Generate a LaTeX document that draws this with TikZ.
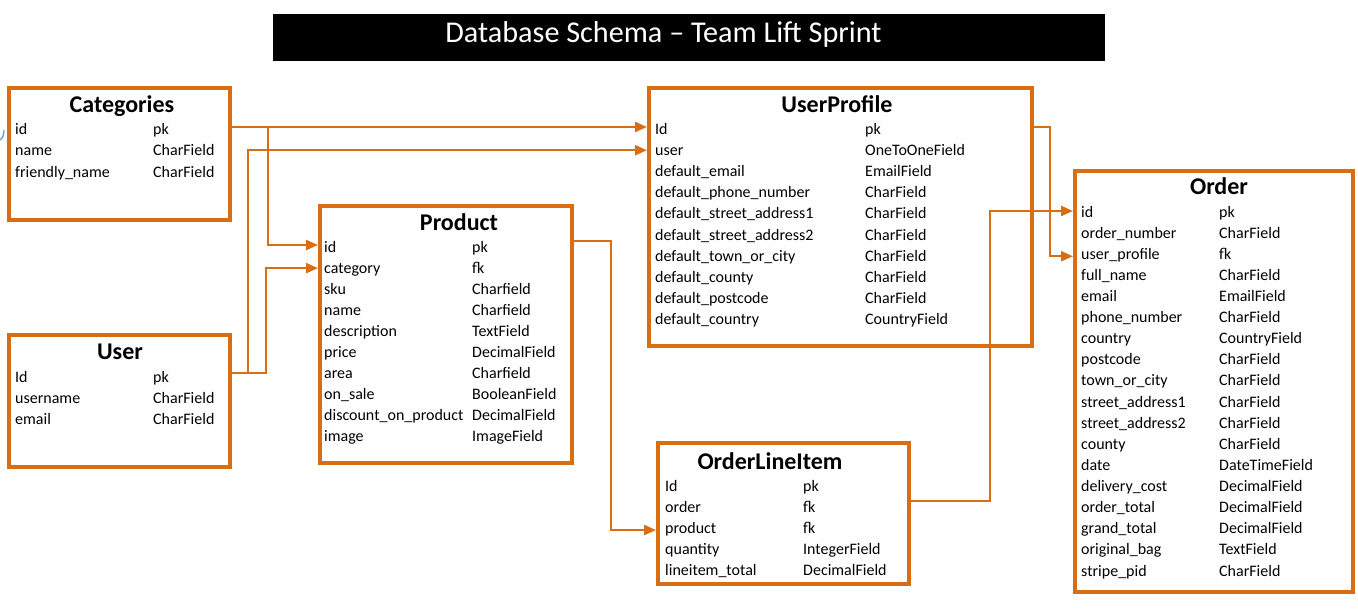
\documentclass[tikz,border=0pt]{standalone}
\usepackage{fontspec}
\setmainfont{Carlito}
\usetikzlibrary{arrows.meta}
\definecolor{orng}{RGB}{217,109,20}
\definecolor{mblue}{RGB}{90,150,210}
\tikzset{
  tbl/.style={draw=orng, line width=4pt, anchor=north west, inner sep=0pt},
  fld/.style={anchor=west, inner sep=0pt, text height=13pt, text depth=3pt,
              font=\fontsize{16}{18}\selectfont},
  ttl/.style={anchor=base, inner sep=0pt, font=\bfseries\fontsize{24}{26}\selectfont},
  conn/.style={draw=orng, line width=2.2pt},
  arr/.style={conn, -{Triangle[length=12pt,width=10pt]}},
}
\newcommand\tablerows[6]{%
  \foreach \a/\b [count=\i] in {#6} {
    \node[fld] (#1-r\i) at (#2, {#4+#5*(\i-1)}) {\a};
    \node[fld] (#1-t\i) at (#3, {#4+#5*(\i-1)}) {\b};
  }}
\begin{document}
\begin{tikzpicture}[x=1pt,y=-1pt]
\useasboundingbox (0,0) rectangle (1358,613);

% title
\node[fill=black, anchor=north west, inner sep=0pt, minimum width=832pt, minimum height=47pt] (title) at (273,14) {};
\node[text=white, inner sep=0pt, anchor=base, font=\fontsize{30.2}{32}\selectfont] (titletext) at (663.5,42.5) {Database Schema – Team Lift Sprint};

% small blue mark
\draw[mblue, line width=1.2pt] (0,140) .. controls (3,138) and (4,134) .. (4,130);

% boxes
\node[tbl, minimum width=221pt, minimum height=132pt] (cat) at (7,86) {};
\node[tbl, minimum width=221pt, minimum height=132pt] (user) at (7,333) {};
\node[tbl, minimum width=252pt, minimum height=257pt] (prod) at (318,204) {};
\node[tbl, minimum width=383pt, minimum height=258pt] (up) at (647,86) {};
\node[tbl, minimum width=251pt, minimum height=141pt] (oli) at (656,441) {};
\node[tbl, minimum width=278pt, minimum height=421pt] (ord) at (1073,169) {};

% titles
\node[ttl] (cat-title) at (122,112) {Categories};
\node[ttl] (user-title) at (120,359) {User};
\node[ttl] (prod-title) at (459,230) {Product};
\node[ttl] (up-title) at (837,112) {UserProfile};
\node[ttl] (oli-title) at (770,469) {OrderLineItem};
\node[ttl] (ord-title) at (1219,194) {Order};

% rows
\tablerows{cat}{15}{153}{129}{21.5}{id/pk, name/CharField, friendly\_name/CharField}
\tablerows{user}{15}{153}{377}{21}{Id/pk, username/CharField, email/CharField}
\tablerows{prod}{324}{472}{247}{21.11}{id/pk, category/fk, sku/Charfield, name/Charfield,
  description/TextField, price/DecimalField, area/Charfield, on\_sale/BooleanField,
  discount\_on\_product/DecimalField, image/ImageField}
\tablerows{up}{655}{865}{129}{21.2}{Id/pk, user/OneToOneField, default\_email/EmailField,
  default\_phone\_number/CharField, default\_street\_address1/CharField,
  default\_street\_address2/CharField, default\_town\_or\_city/CharField,
  default\_county/CharField, default\_postcode/CharField, default\_country/CountryField}
\tablerows{oli}{665}{803}{486}{21}{Id/pk, order/fk, product/fk, quantity/IntegerField,
  lineitem\_total/DecimalField}
\tablerows{ord}{1081}{1219}{212}{21.12}{id/pk, order\_number/CharField, user\_profile/fk,
  full\_name/CharField, email/EmailField, phone\_number/CharField, country/CountryField,
  postcode/CharField, town\_or\_city/CharField, street\_address1/CharField,
  street\_address2/CharField, county/CharField, date/DateTimeField,
  delivery\_cost/DecimalField, order\_total/DecimalField, grand\_total/DecimalField,
  original\_bag/TextField, stripe\_pid/CharField}

% junction x-positions
\coordinate (j1) at (268,0);
\coordinate (j2) at (248,0);
\coordinate (j3) at (266,0);
\coordinate (j4) at (611,0);
\coordinate (j5) at (990,0);
\coordinate (j6) at (1050,0);

% connectors
\draw[arr] ([yshift=2pt]cat.east |- cat-r1) -- ([yshift=2pt]up.west |- up-r1);
\draw[arr] ([yshift=2pt]cat.east |- cat-r1) -- ([yshift=2pt]j1 |- cat-r1) -- ([yshift=2pt]j1 |- prod-r1) -- ([yshift=2pt]prod.west |- prod-r1);
\draw[arr] ([yshift=4pt]user.east |- user-r1) -- ([yshift=4pt]j2 |- user-r1) -- (j2 |- up-r2) -- (up.west |- up-r2);
\draw[arr] ([yshift=4pt]user.east |- user-r1) -- ([yshift=4pt]j3 |- user-r1) -- (j3 |- prod-r2) -- (prod.west |- prod-r2);
\draw[arr] ([yshift=6pt]prod.east |- prod-r1) -- ([yshift=6pt]j4 |- prod-r1) -- ([yshift=-2pt]j4 |- oli-r3) -- ([yshift=-2pt]oli.west |- oli-r3);
\draw[arr] ([yshift=6pt]oli.east |- oli-r2) -- ([yshift=6pt]j5 |- oli-r2) -- ([yshift=1pt]j5 |- ord-r1) -- ([yshift=1pt]ord.west |- ord-r1);
\draw[arr] ([yshift=2pt]up.east |- up-r1) -- ([yshift=2pt]j6 |- up-r1) -- ([yshift=-2pt]j6 |- ord-r3) -- ([yshift=-2pt]ord.west |- ord-r3);
\end{tikzpicture}
\end{document}
